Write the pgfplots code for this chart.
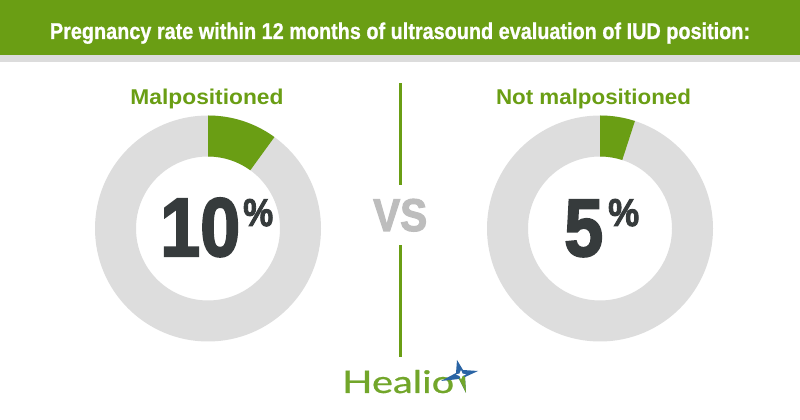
\documentclass[border=0pt]{standalone}
\usepackage{pgfplots}
\pgfplotsset{compat=1.18}
\usepackage{pgfplotstable}
\usepackage{graphicx}
\usepackage{fontspec}
\setmainfont{Liberation Sans}
\newfontfamily\logofont{Lato}[FakeBold=0.6]
\newfontfamily\heavyfont{Liberation Sans}[UprightFont=* Bold, FakeBold=2.5]
\newfontfamily\semiheavy{Liberation Sans}[UprightFont=* Bold, FakeBold=1]
\definecolor{hgreen}{HTML}{6A9E14}
\definecolor{ringgray}{HTML}{DDDDDD}
\definecolor{darktext}{HTML}{363B3C}
\definecolor{vsgray}{HTML}{BDBDBD}
\definecolor{stripgray}{HTML}{DCDCDC}
\definecolor{logogreen}{HTML}{72A62A}
\definecolor{logoblue}{HTML}{2A64A4}

\pgfplotstableread{
group rate
Malpositioned 10
Notmalpositioned 5
}\ratetable

\begin{document}
\begin{tikzpicture}[x=1pt,y=1pt]
\path[use as bounding box] (0,0) rectangle (800,420);
\fill[white] (0,0) rectangle (800,420);
% header
\fill[hgreen] (0,365) rectangle (800,420);
\fill[stripgray] (0,358) rectangle (800,365);
\node[white, anchor=base, inner sep=0pt] at (400,381) {\resizebox{700pt}{16.5pt}{\semiheavy Pregnancy rate within 12 months of ultrasound evaluation of IUD position:}};

% angles from data
\pgfplotstablegetelem{0}{rate}\of\ratetable
\pgfmathsetmacro\angA{90-3.6*\pgfplotsretval}
\pgfplotstablegetelem{1}{rate}\of\ratetable
\pgfmathsetmacro\angB{90-3.6*\pgfplotsretval}

\begin{axis}[at={(0,0)}, anchor=south west, x=1pt, y=1pt,
  xmin=0, xmax=800, ymin=0, ymax=420, hide axis, clip=false, disabledatascaling]
  % left donut
  \fill[ringgray, even odd rule] (208,191.5) circle[radius=113pt] (208,191.5) circle[radius=72pt];
  \fill[hgreen] (208,304.5) arc[start angle=90, end angle=\angA, radius=113pt]
     -- ({208+72*cos(\angA)},{191.5+72*sin(\angA)}) arc[start angle=\angA, end angle=90, radius=72pt] -- cycle;
  % right donut
  \fill[ringgray, even odd rule] (600,191.5) circle[radius=113pt] (600,191.5) circle[radius=72pt];
  \fill[hgreen] (600,304.5) arc[start angle=90, end angle=\angB, radius=113pt]
     -- ({600+72*cos(\angB)},{191.5+72*sin(\angB)}) arc[start angle=\angB, end angle=90, radius=72pt] -- cycle;
\end{axis}

% labels
\node[hgreen, anchor=base, inner sep=0pt] at (207,315) {\resizebox{153pt}{15.5pt}{\bfseries Malpositioned}};
\node[hgreen, anchor=base, inner sep=0pt] at (593.5,315) {\resizebox{195pt}{15.5pt}{\bfseries Not malpositioned}};

% big numbers
\node[darktext, anchor=base west, inner sep=0pt] at (160,164) {\resizebox{80pt}{58pt}{\heavyfont 10}};
\node[darktext, anchor=base west, inner sep=0pt] at (243,194) {\resizebox{30pt}{27pt}{\heavyfont\%}};
\node[darktext, anchor=base west, inner sep=0pt] at (564,164) {\resizebox{39pt}{56pt}{\heavyfont 5}};
\node[darktext, anchor=base west, inner sep=0pt] at (608,194) {\resizebox{31pt}{27pt}{\heavyfont\%}};

% VS and divider
\node[vsgray, anchor=base west, inner sep=0pt] at (373,189) {\resizebox{54pt}{32pt}{\heavyfont VS}};
\fill[hgreen] (398.5,337) rectangle (401.5,235);
\fill[hgreen] (398.5,175) rectangle (401.5,63);

% logo
\node[logogreen, anchor=base west, inner sep=0pt] at (342,27) {\resizebox{112pt}{23pt}{\logofont Healio}};
\fill[logoblue] (457,60) -- (463,50) -- (478,49) -- (465,43) -- (466,27) -- (459,41) -- (441,39) -- (456,47) -- cycle;
\fill[logogreen] (465,43) -- (466,27) -- (459,41) -- (462,45) -- cycle;
\fill[white] (461,50) -- (462.5,46.5) -- (466,45.5) -- (462.5,44) -- (461,40.5) -- (459.5,44) -- (456,45.5) -- (459.5,46.5) -- cycle;
\end{tikzpicture}
\end{document}
